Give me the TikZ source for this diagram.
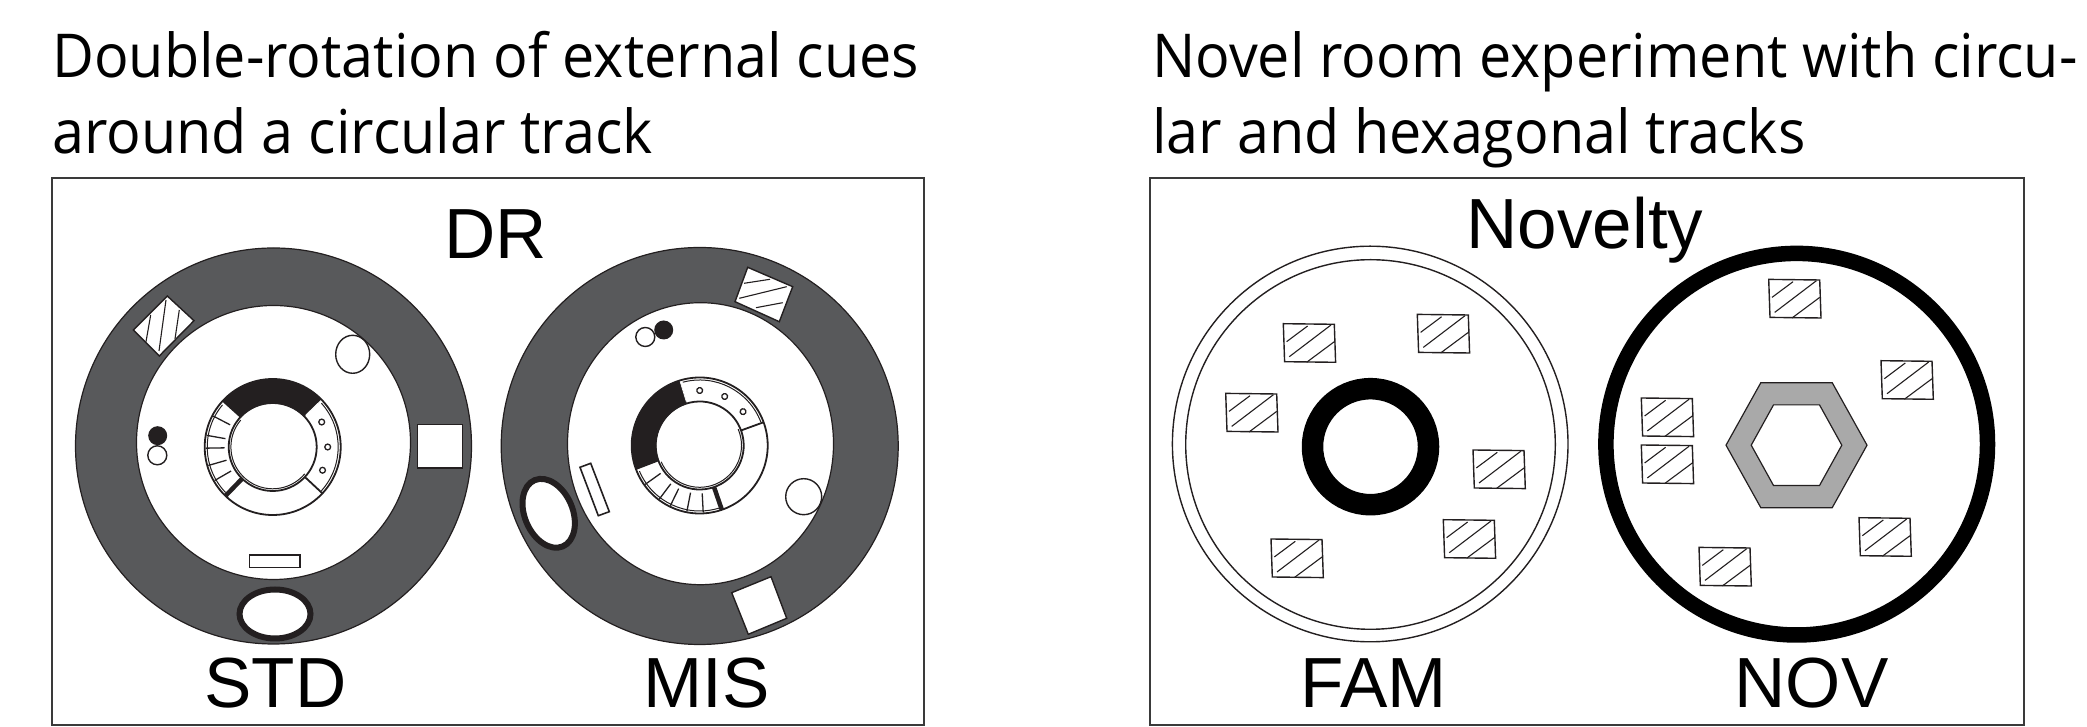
\documentclass[tikz,border=0pt]{standalone}
\usepackage{fontspec}
\setmainfont{Liberation Sans}
\newfontfamily\titlefont[FakeStretch=0.95]{Open Sans}
\usetikzlibrary{arrows.meta,positioning,calc}
\definecolor{drblack}{HTML}{231F20}
\definecolor{drgray}{HTML}{58595B}
\definecolor{hexgray}{HTML}{A9A9A9}
\definecolor{framegray}{HTML}{3A3A3A}

\begin{document}
\begin{tikzpicture}[
    x=1pt,
    y=1pt,
    panel/.style={draw=framegray, line width=2pt},
    paneltitle/.style={anchor=base west, inner sep=0pt, font=\titlefont\fontsize{60.5}{60.5}\selectfont},
    label/.style={anchor=base, inner sep=0pt, font=\fontsize{71}{71}\selectfont},
    room/.style={draw=drblack, line width=1.2pt, fill=drgray},
    arena/.style={draw=drblack, line width=1.2pt, fill=white},
    cue/.style={draw=drblack, line width=1.4pt, fill=white},
    thincirc/.style={draw=drblack, line width=1.4pt},
    stripe/.style={draw=drblack, line width=1.1pt},
    mazering/.pic={
      \fill[white] (0,0) circle[radius=68];
      \fill[drblack] (44:68) arc[start angle=44, end angle=138, radius=68] -- (138:43.5) arc[start angle=138, end angle=44, radius=43.5] -- cycle;
      \draw[draw=drblack, line width=1.8pt] (0,0) circle[radius=68];
      \draw[draw=drblack, line width=1.8pt] (0,0) circle[radius=44];
      \draw[draw=drblack, line width=1pt] (140:65.5) arc[start angle=140, end angle=224, radius=65.5];
      \draw[draw=drblack, line width=1pt] (42:65.5) arc[start angle=42, end angle=-42, radius=65.5];
      \draw[draw=drblack, line width=1pt] (140:41.8) arc[start angle=140, end angle=320, radius=41.8];
      \foreach \a in {152.5,170,181,196,210}
        \draw[draw=drblack, line width=1.3pt] (\a:48) -- (\a:67);
      \foreach \a in {27,0,-25}
        \draw[draw=drblack, line width=1.3pt, fill=white] (\a:55) circle[radius=2.9];
      \draw[draw=white, line width=0.7pt] (44:46) -- (44:67);
      \draw[draw=drblack, line width=1.8pt] (-43:44) -- (-43:68);
      \draw[draw=drblack, line width=4.5pt] (226:44) -- (226:68);
    },
    cueblock/.pic={
      \draw[cue] (-26,19.3) -- (25,18.7) -- (26.3,-19.3) -- (-24.7,-18.7) -- cycle;
      \draw[stripe] (-22.7,1.3) -- (-1.7,17);
      \draw[stripe] (-20,-13.7) -- (21.7,18);
      \draw[stripe] (-2.7,-19.3) -- (25,1.3);
    }
  ]
    \useasboundingbox (0,0) rectangle (2087,727);

    \node[paneltitle] (title1a) at (52,649) {Double-rotation of external cues};
    \node[paneltitle] (title1b) at (52,573) {around a circular track};
    \node[paneltitle] (title2a) at (1152,649) {Novel room experiment with circu-};
    \node[paneltitle] (title2b) at (1152,573) {lar and hexagonal tracks};

    \draw[panel] (52,2) rectangle (924.3,549.3);
    \draw[panel] (1150,2) rectangle (2023.5,549.3);

    \node[label] (dr) at (495.5,468) {DR};
    \node[label] (std) at (275.5,19) {STD};
    \node[label] (mis) at (706.5,19) {MIS};
    \node[label] (novelty) at (1585,478.3) {Novelty};
    \node[label] (fam) at (1373.5,19) {FAM};
    \node[label] (nov) at (1811.5,19) {NOV};

    % standard
    \draw[room] (273.5,281) circle[radius=198];
    \draw[arena] (273.5,284.5) circle[radius=137];
    \pic at (272.7,280) {mazering};
    \draw[cue] (167.3,431) -- (194,406.3) -- (159.3,371) -- (133.3,397) -- cycle;
    \draw[stripe] (150.7,412) -- (146,385.3);
    \draw[stripe] (166,427) -- (159,376);
    \draw[stripe] (179.3,417) -- (175,388);
    \draw[thincirc, fill=white] (352.7,372.7) ellipse[x radius=17, y radius=19];
    \fill[drblack] (157.7,291.3) circle[radius=9.5];
    \draw[thincirc, fill=white] (157.3,271.7) circle[radius=9.5];
    \draw[cue, fill=white] (417.7,259) rectangle (462.3,302.7);
    \draw[cue, fill=white, line width=1.6pt] (249.3,159.3) rectangle (300,172);
    \draw[draw=drblack, line width=6pt, fill=white] (275,113) ellipse[x radius=35.5, y radius=24.5];

    % mismatch
    \draw[room] (699.7,281) circle[radius=198.5];
    \draw[arena] (700.5,283.3) ellipse[x radius=133, y radius=141];
    \pic[rotate=63] at (699.7,281.5) {mazering};
    \draw[cue] (747.7,459.7) -- (792.7,440.3) -- (779.3,405.3) -- (735,425.3) -- cycle;
    \draw[stripe] (744,443.7) -- (770,447.7);
    \draw[stripe] (739.3,428.7) -- (786.7,440.3);
    \draw[stripe] (756,419.3) -- (782.7,424.3);
    \fill[drblack] (663.7,397) circle[radius=9.5];
    \draw[thincirc, fill=white] (645.3,390) circle[radius=9.5];
    \draw[thincirc, fill=white] (803.7,230.3) circle[radius=18];
    \draw[cue] (731.7,134.3) -- (771,150.3) -- (786.7,108.7) -- (748.3,92.7) -- cycle;
    \draw[cue, line width=1.6pt] (580,259.7) -- (590.7,263.7) -- (609.3,215.3) -- (598.3,211.3) -- cycle;
    \draw[draw=drblack, line width=6pt, fill=white, rotate around={113:(548.7,213.7)}] (548.7,213.7) ellipse[x radius=36, y radius=24];

    % familiar
    \draw[thincirc] (1370.2,283) circle[radius=197.8];
    \draw[thincirc] (1370.5,282.5) circle[radius=184.8];
    \draw[draw=black, line width=21.5pt] (1370.5,280.3) circle[radius=58];
    \foreach \x/\y in {1309.3/384,1443.3/393.3,1251.7/314.3,1499/257.7,1469.3/188,1297/168.7}
      \pic at (\x,\y) {cueblock};

    % novel
    \draw[draw=black, line width=15.5pt] (1796.7,282.8) circle[radius=190.8];
    \draw[draw=drblack, line width=1.2pt, fill=hexgray, even odd rule, shift={(1796.5,281.8)}]
      (-70.5,0) -- (-35.7,62.5) -- (35.7,62.5) -- (70.5,0) -- (35.7,-62.5) -- (-35.7,-62.5) -- cycle
      (-45.3,0) -- (-23,40.3) -- (23,40.3) -- (45.3,0) -- (23,-40.3) -- (-23,-40.3) -- cycle;
    \foreach \x/\y in {1794.7/428.3,1907/347,1667.3/309.7,1667.3/262.7,1885/190,1725/160.3}
      \pic at (\x,\y) {cueblock};
\end{tikzpicture}
\end{document}
